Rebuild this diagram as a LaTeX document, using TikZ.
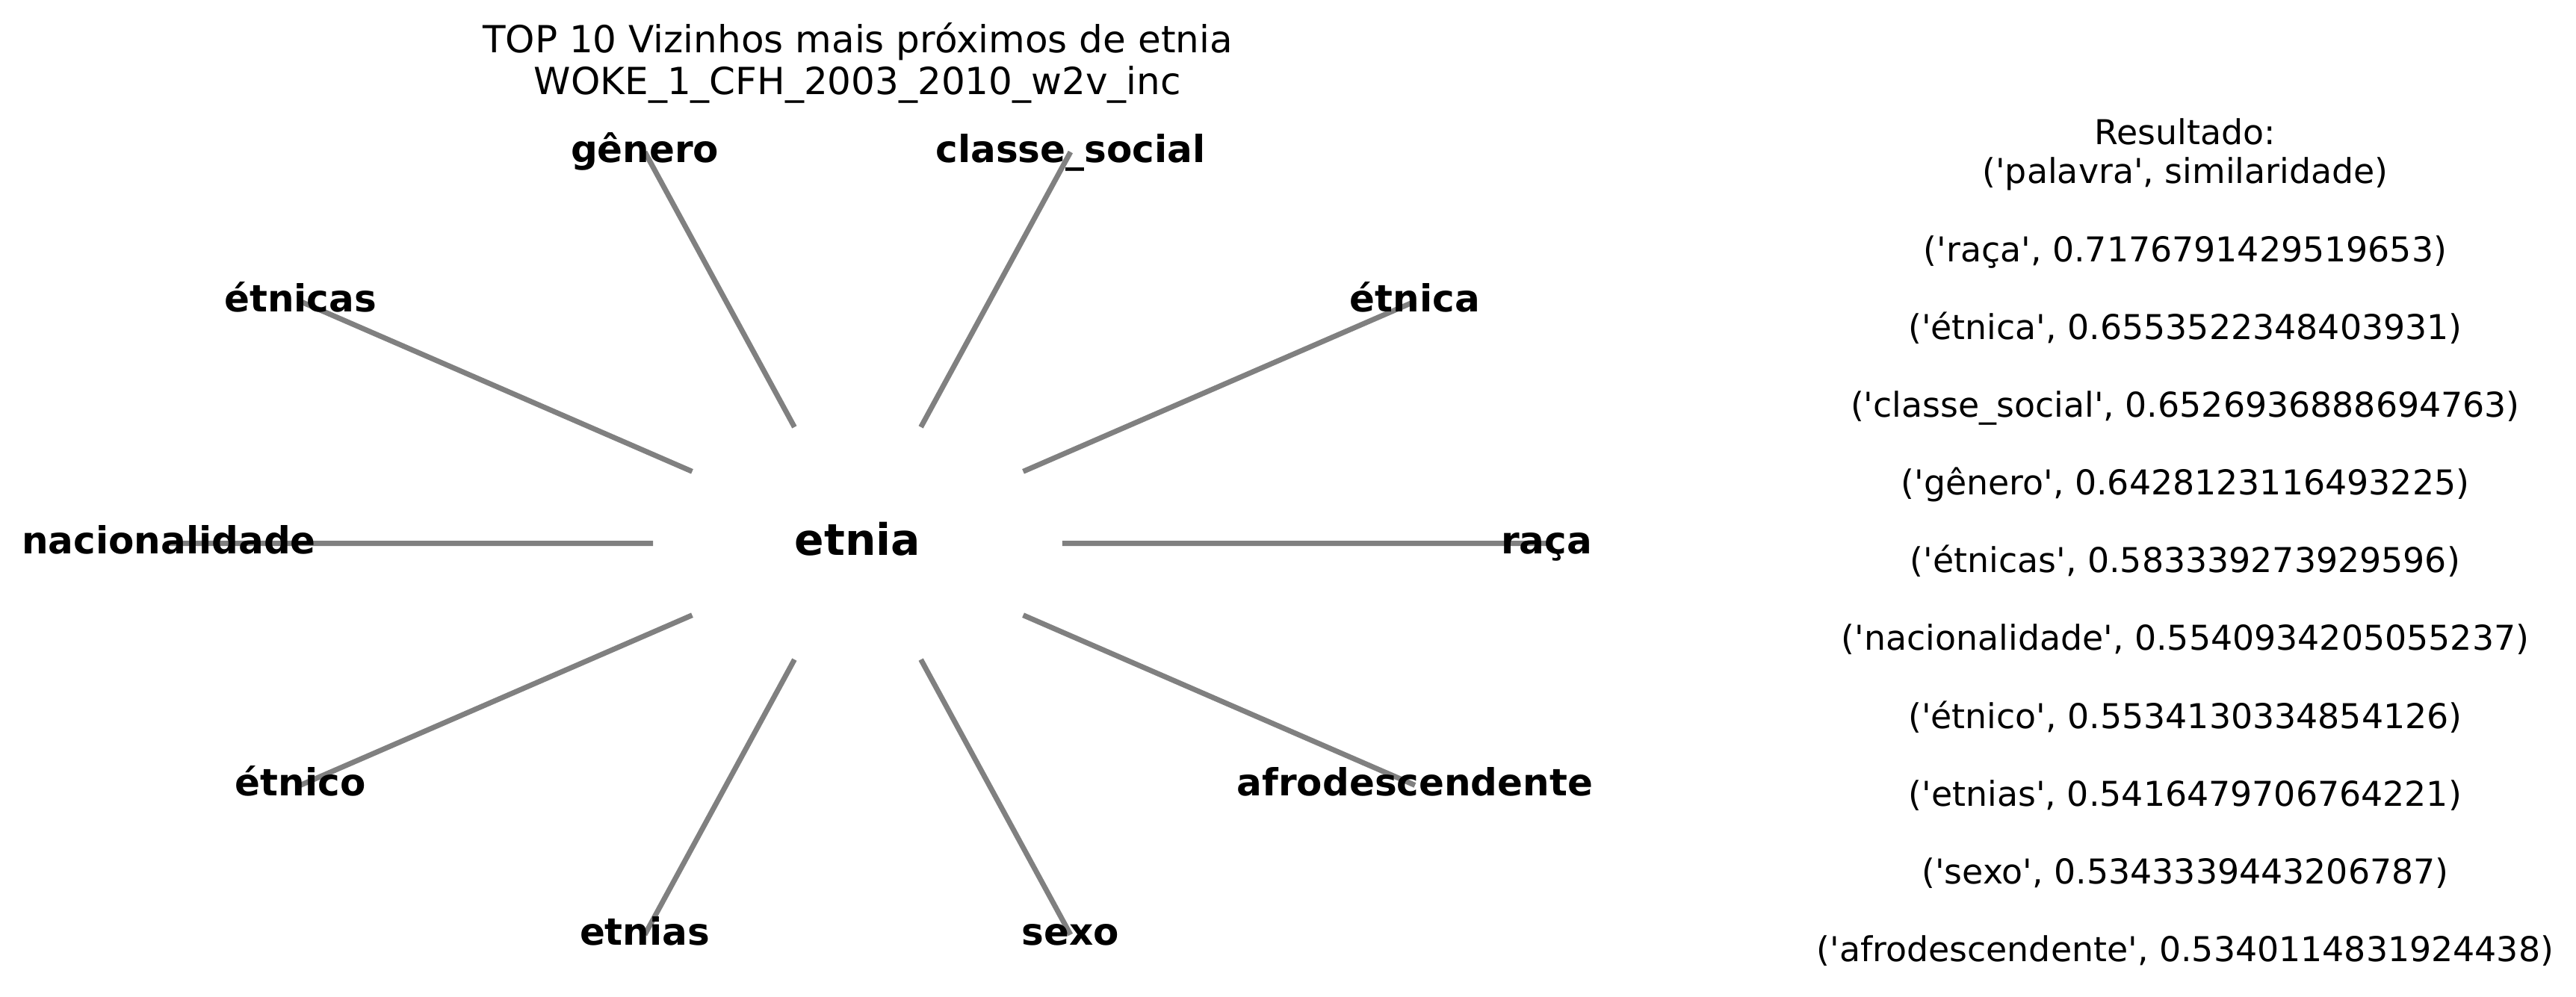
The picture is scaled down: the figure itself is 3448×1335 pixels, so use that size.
\documentclass[tikz,border=0pt]{standalone}
\usepackage{fontspec}
\setmainfont{DejaVu Sans}
\newfontfamily\djv{DejaVu Sans}
\usetikzlibrary{calc,backgrounds}
\begin{document}
\begin{tikzpicture}[x=0.24pt,y=-0.24pt,
  lbl/.style={font=\djv\fontsize{12}{14}\selectfont\bfseries, inner sep=0pt,
              text height=9.12pt, text depth=2.5pt, anchor=center},
  hub/.style={font=\djv\fontsize{14}{16}\selectfont\bfseries, inner sep=0pt,
              text height=10.64pt, text depth=2.91pt, anchor=center},
  edge/.style={draw=gray, line width=1.68pt},
  txt/.style={align=center, inner sep=0pt, anchor=north}]
\useasboundingbox (0,0) rectangle (3448,1335);

% nodes
\node[hub] (etnia) at (1148,727.5) {etnia};
\node[lbl] (raca) at (2070,727.5) {raça};
\node[lbl] (etnica) at (1893.9,403.6) {étnica};
\node[lbl] (classe) at (1432.9,203.5) {classe\_social};
\node[lbl] (genero) at (863.1,203.5) {gênero};
\node[lbl] (etnicas) at (402.1,403.6) {étnicas};
\node[lbl] (nacional) at (226,727.5) {nacionalidade};
\node[lbl] (etnico) at (402.1,1051.4) {étnico};
\node[lbl] (etnias) at (863.1,1251.5) {etnias};
\node[lbl] (sexo) at (1432.9,1251.5) {sexo};
\node[lbl] (afro) at (1893.9,1051.4) {afrodescendente};

% title
\node[txt, font=\djv\fontsize{12}{13.44}\selectfont] (title) at (1148,28.3)
  {\rule{0pt}{10pt}TOP 10 Vizinhos mais próximos de etnia\\WOKE\_1\_CFH\_2003\_2010\_w2v\_inc};

% result list
\node[txt, font=\djv\fontsize{11}{12.5}\selectfont] (result) at (2925,151.3)
  {\rule{0pt}{10pt}Resultado:\\('palavra', similaridade)\\[12.5pt]%
   ('raça', 0.7176791429519653)\\[12.5pt]%
   ('étnica', 0.6553522348403931)\\[12.5pt]%
   ('classe\_social', 0.6526936888694763)\\[12.5pt]%
   ('gênero', 0.6428123116493225)\\[12.5pt]%
   ('étnicas', 0.583339273929596)\\[12.5pt]%
   ('nacionalidade', 0.5540934205055237)\\[12.5pt]%
   ('étnico', 0.5534130334854126)\\[12.5pt]%
   ('etnias', 0.5416479706764221)\\[12.5pt]%
   ('sexo', 0.5343339443206787)\\[12.5pt]%
   ('afrodescendente', 0.5340114831924438)};

% edges behind labels
\begin{pgfonlayer}{background}
\fill[white] (0,0) rectangle (3448,1335);
\foreach \n in {raca,etnica,classe,genero,etnicas,nacional,etnico,etnias,sexo,afro}
  \draw[edge] ($(etnia)!0.297!(\n)$) -- (\n.center);
\end{pgfonlayer}
\end{tikzpicture}
\end{document}
